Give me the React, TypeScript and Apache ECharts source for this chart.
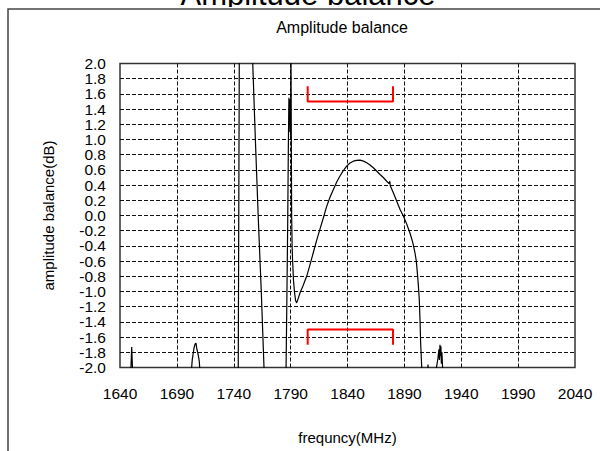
import React, { useEffect, useRef } from "react";
import * as echarts from "echarts";

const FREQ_MIN = 1640;
const FREQ_MAX = 2040;
const FREQ_STEP = 50;
const DB_MIN = -2;
const DB_MAX = 2;
const DB_STEP = 0.2;

const pageTitle = "Amplitude balance";
const chartTitle = "Amplitude balance";
const xName = "frequncy(MHz)";
const yName = "amplitude balance(dB)";

// measured amplitude balance trace (MHz, dB); values beyond ±2 dB leave the plot
const curveFreq = [
  1640.0, 1649.4, 1650.0, 1650.3, 1650.7, 1651.2,
  1702.5, 1703.5, 1705.0, 1706.0, 1706.8, 1707.6, 1708.3, 1709.2, 1709.7, 1710.5,
  1743.9, 1744.9, 1750.0, 1756.0, 1756.7, 1759.0, 1761.6, 1764.2, 1766.6, 1767.2,
  1785.7, 1786.0, 1786.7, 1787.4, 1788.0, 1788.3, 1788.5, 1788.8, 1789.1, 1789.4,
  1789.7, 1790.0, 1790.3, 1790.6, 1790.9, 1791.3, 1791.7, 1792.5, 1793.5, 1794.4,
  1795.3, 1796.5, 1798.2, 1801.0, 1804.1, 1807.0, 1809.9, 1812.8, 1815.8, 1818.8,
  1821.7, 1824.6, 1827.5, 1830.5, 1833.4, 1836.3, 1839.3, 1842.2, 1845.1, 1848.0,
  1851.0, 1854.0, 1856.9, 1859.8, 1862.7, 1865.6, 1868.6, 1871.5, 1874.5, 1876.5,
  1877.2, 1877.6, 1878.0, 1880.3, 1883.2, 1886.2, 1889.1, 1892.0, 1894.9, 1897.3,
  1899.3, 1900.5, 1901.4, 1902.3, 1903.1, 1903.8, 1904.3, 1905.2, 1905.6,
  1910.2, 1910.8, 1911.4, 1917.0, 1918.2, 1919.5, 1920.4, 1920.8, 1921.3, 1921.7,
  1922.1, 1922.5, 1923.0, 1923.6, 1924.5, 1926.0,
];
const curveDb = [
  -2.4, -2.1, -1.85, -1.73, -1.9, -2.1,
  -2.1, -1.9, -1.75, -1.69, -1.68, -1.76, -1.8, -1.87, -1.92, -2.1,
  -2.2, 2.2, 3.0, 2.3, 2.0, 1.0, -0.05, -1.0, -2.0, -2.3,
  -2.3, -2.0, -1.1, -0.14, 0.9, 1.3, 1.55, 1.2, 1.53, 1.1,
  1.5, 1.05, 2.3, 1.0, 0.0, -0.4, -0.58, -0.85, -1.02, -1.12,
  -1.15, -1.1, -1.02, -0.92, -0.8, -0.65, -0.49, -0.33, -0.18, -0.03,
  0.12, 0.24, 0.34, 0.44, 0.52, 0.59, 0.65, 0.69, 0.715, 0.725,
  0.728, 0.715, 0.693, 0.665, 0.628, 0.585, 0.54, 0.5, 0.451, 0.42,
  0.45, 0.39, 0.386, 0.3, 0.19, 0.079, -0.007, -0.11, -0.23, -0.35,
  -0.49, -0.6, -0.754, -0.92, -1.105, -1.4, -1.675, -1.98, -2.2,
  -2.2, -1.96, -2.2, -2.2, -2.0, -1.88, -1.76, -1.9, -1.7, -1.85,
  -1.72, -1.95, -1.8, -2.0, -2.2, -2.4,
];

// specification brackets (1805–1880 MHz, ±1.5 dB)
const bandFreq = [1805, 1805, 1880, 1880];
const upperLimitDb = [1.7, 1.5, 1.5, 1.7];
const lowerLimitDb = [-1.7, -1.5, -1.5, -1.7];

const FONT = "'Liberation Sans', Arial, sans-serif";

export default function App() {
  const ref = useRef<HTMLDivElement>(null);

  useEffect(() => {
    if (!ref.current) return;
    const chart = echarts.init(ref.current, null, { renderer: "svg" });
    const toXY = (fs: number[], vs: number[]) => fs.map((f, i) => [f - FREQ_MIN, vs[i]]);
    const splitStyle = { color: "#111", width: 1, type: [4, 2] as any };
    const fmtDb = (v: number) => (Math.abs(v) < 1e-9 ? 0 : v).toFixed(1);
    const tickIndex = (v: number) => Math.round((v - DB_MIN) / DB_STEP);
    const yLabelBase = {
      fontSize: 15.5,
      color: "#000",
      margin: 14,
      fontFamily: FONT,
      showMinLabel: true,
      showMaxLabel: true,
    };

    chart.setOption({
      animation: false,
      backgroundColor: "#ffffff",
      textStyle: { fontFamily: FONT },
      grid: {
        left: 120,
        top: 63.5,
        width: 455,
        height: 304,
        show: true,
        borderColor: "#333",
        borderWidth: 1.5,
        backgroundColor: "transparent",
      },
      xAxis: {
        type: "value",
        min: 0,
        max: FREQ_MAX - FREQ_MIN,
        interval: FREQ_STEP,
        axisLine: { show: false },
        axisTick: { show: false },
        axisLabel: {
          formatter: (v: number) => String(Math.round(v + FREQ_MIN)),
          fontSize: 15.5,
          color: "#000",
          margin: 18,
          fontFamily: FONT,
          showMinLabel: true,
          showMaxLabel: true,
        },
        splitLine: { show: true, showMinLine: false, showMaxLine: false, lineStyle: splitStyle },
        name: xName,
        nameLocation: "middle",
        nameGap: 62,
        nameTextStyle: { fontSize: 15, color: "#000", fontFamily: FONT },
      },
      yAxis: [
        {
          type: "value",
          min: DB_MIN,
          max: DB_MAX,
          interval: DB_STEP,
          position: "left",
          axisLine: { show: false },
          axisTick: { show: false },
          axisLabel: {
            ...yLabelBase,
            formatter: (v: number) => (tickIndex(v) % 2 === 0 ? fmtDb(v) : ""),
          },
          splitLine: { show: true, showMinLine: false, showMaxLine: false, lineStyle: splitStyle },
          name: yName,
          nameLocation: "middle",
          nameGap: 64,
          nameRotate: 90,
          nameTextStyle: { fontSize: 15, color: "#000", fontFamily: FONT },
        },
        {
          type: "value",
          min: DB_MIN,
          max: DB_MAX,
          interval: DB_STEP,
          position: "left",
          offset: 0,
          axisLine: { show: false },
          axisTick: { show: false },
          axisLabel: {
            ...yLabelBase,
            formatter: (v: number) => (tickIndex(v) % 2 === 1 ? fmtDb(v) : ""),
          },
          splitLine: { show: false },
        },
      ],
      graphic: [
        {
          type: "text",
          z: -3,
          x: 308,
          y: -5.7,
          style: {
            text: pageTitle,
            fontSize: 31,
            fontFamily: FONT,
            fill: "#000",
            align: "center",
            verticalAlign: "middle",
          },
        },
        {
          type: "rect",
          z: -2,
          shape: { x: 0, y: 7, width: 600, height: 460 },
          style: { fill: "#fff", stroke: "none" },
        },
        {
          type: "rect",
          z: -1,
          shape: { x: 8, y: 9, width: 700, height: 600 },
          style: { fill: "none", stroke: "#444", lineWidth: 1.5 },
        },
        {
          type: "text",
          x: 342,
          y: 27.7,
          style: {
            text: chartTitle,
            fontSize: 16,
            fontFamily: FONT,
            fill: "#000",
            align: "center",
            verticalAlign: "middle",
          },
        },
      ],
      series: [
        {
          type: "line",
          yAxisIndex: 0,
          data: toXY(curveFreq, curveDb),
          symbol: "none",
          showSymbol: false,
          clip: true,
          lineStyle: { color: "#000", width: 1.2 },
          z: 3,
        },
        {
          type: "line",
          yAxisIndex: 0,
          data: toXY(bandFreq, upperLimitDb),
          symbol: "none",
          lineStyle: { color: "#ff0000", width: 2 },
          z: 4,
        },
        {
          type: "line",
          yAxisIndex: 0,
          data: toXY(bandFreq, lowerLimitDb),
          symbol: "none",
          lineStyle: { color: "#ff0000", width: 2 },
          z: 4,
        },
      ],
    });

    return () => chart.dispose();
  }, []);

  return (
    <div
      ref={ref}
      style={{ position: "absolute", left: 0, top: 0, width: 600, height: 451 }}
    />
  );
}
